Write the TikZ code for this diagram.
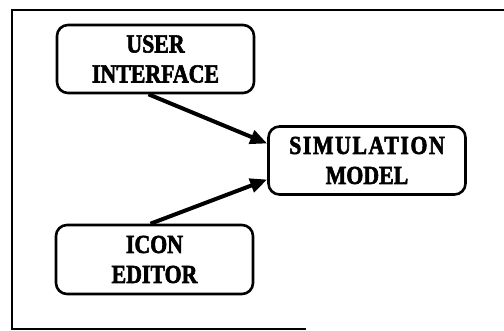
\documentclass[tikz,border=0pt]{standalone}
\usepackage{fontspec}
\newfontfamily\boxfont[FakeStretch=0.84,FakeBold=2.2]{Liberation Serif Bold}
\usetikzlibrary{arrows.meta, positioning}

\begin{document}
\begin{tikzpicture}[
    x=1pt, y=-1pt,
    font=\boxfont\fontsize{26}{30}\selectfont,
    box/.style={draw, line width=2.6pt, rounded corners=11pt,
                minimum width=197pt, minimum height=68pt,
                align=center, inner sep=0pt},
    arrow/.style={-{Triangle[length=17pt, width=14pt]}, line width=4pt},
    frame/.style={line width=1.6pt}
]
\useasboundingbox (0,0) rectangle (504,331);

% --- open frame round the diagram ---
\coordinate (ftr) at (504,10);
\coordinate (ftl) at (12,10);
\coordinate (fbl) at (12,329);
\coordinate (fbr) at (306,329);
\draw[frame] (ftr) -- (ftl) -- (fbl) -- (fbr);

% --- boxes ---
\node[box] (user) at (155.5,59) {USER\\INTERFACE};
\node[box] (sim) at (367,160.5)
     {{\addfontfeature{LetterSpace=6}SIMULATION}\\MODEL};
\node[box, minimum height=69pt] (icon) at (154.5,259.5) {ICON\\EDITOR};

% --- connectors ---
\draw[arrow] ([xshift=-7pt]user.south) -- ([yshift=17pt]sim.west);
\draw[arrow] ([xshift=-4pt]icon.north) -- ([yshift=-19pt]sim.west);

\end{tikzpicture}
\end{document}
